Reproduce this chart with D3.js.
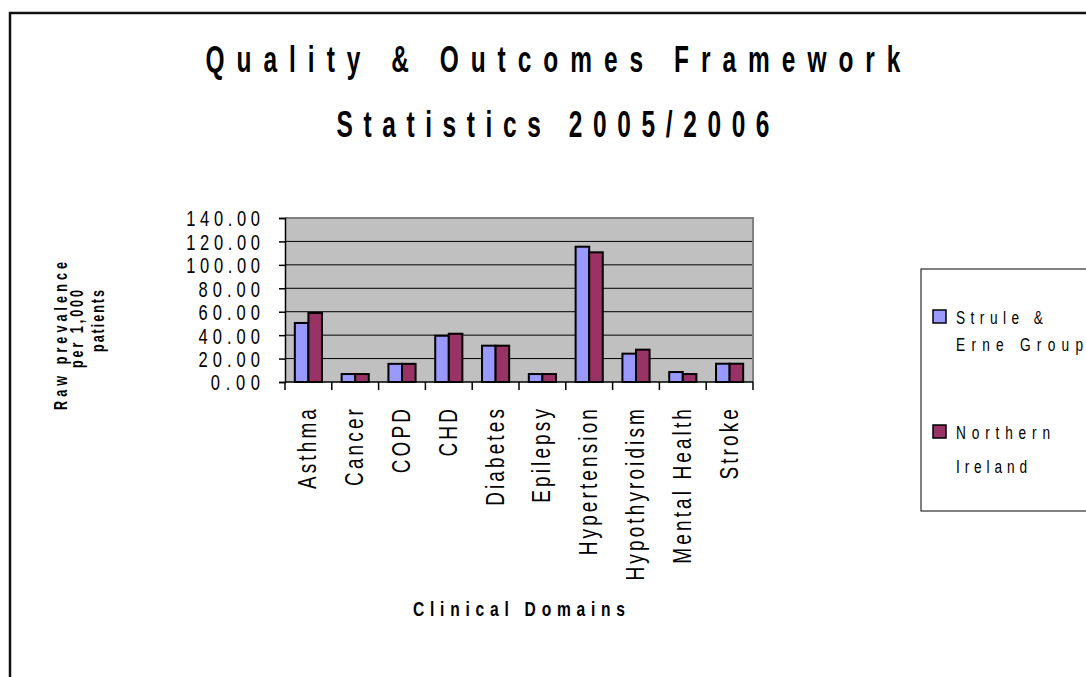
<!DOCTYPE html>
<html>
<head>
<meta charset="utf-8">
<script src="https://cdn.jsdelivr.net/npm/d3@7.9.0/dist/d3.min.js"></script>
<style>
  html, body { margin: 0; padding: 0; background: #fff; overflow: hidden; }
  svg { display: block; }
  text { font-family: "Liberation Sans", Arial, sans-serif; fill: #000; }
</style>
</head>
<body>
<svg id="chart" width="1086" height="677"></svg>
<script>
// chart data
const categories = ["Asthma", "Cancer", "COPD", "CHD", "Diabetes", "Epilepsy",
                    "Hypertension", "Hypothyroidism", "Mental Health", "Stroke"];
const seriesNames = ["Strule & Erne Group", "Northern Ireland"];
const struleValues = [50.4, 6.8, 15.5, 39.5, 31.0, 6.8, 115.5, 24.2, 8.5, 15.6];
const niValues = [58.9, 6.8, 15.5, 41.2, 31.0, 6.8, 110.7, 27.6, 6.8, 15.6];
const yTicks = [0, 20, 40, 60, 80, 100, 120, 140];
const colors = ["#9999ff", "#993366"];

const svg = d3.select("#chart");

// the original uses a squeezed, widely spaced font; fake it with scaleX + textLength
function squeezed(sel, sx, width) {
  sel.attr("textLength", width / sx).attr("lengthAdjust", "spacing");
}

// outer chart frame (runs off right and bottom edge)
svg.append("rect")
    .attr("x", 10).attr("y", 13)
    .attr("width", 1200).attr("height", 800)
    .attr("fill", "#fff")
    .attr("stroke", "#111")
    .attr("stroke-width", 2.5);

// title
const title = svg.append("g").attr("font-weight", "bold").attr("font-size", 36);
title.append("text")
    .attr("transform", "translate(553,72) scale(0.68,1)")
    .attr("text-anchor", "middle")
    .call(squeezed, 0.68, 695)
    .text("Quality & Outcomes Framework");
title.append("text")
    .attr("transform", "translate(553,137) scale(0.68,1)")
    .attr("text-anchor", "middle")
    .call(squeezed, 0.68, 433)
    .text("Statistics 2005/2006");

// plot area
const plot = { left: 285, right: 753, top: 218, bottom: 382 };

const x = d3.scaleBand()
    .domain(categories)
    .range([plot.left, plot.right]);

const xSeries = d3.scaleBand()
    .domain(seriesNames)
    .range([x.bandwidth() * 0.21, x.bandwidth() * 0.79]);

const y = d3.scaleLinear()
    .domain([0, 140])
    .range([plot.bottom, plot.top]);

svg.append("rect")
    .attr("x", plot.left).attr("y", plot.top)
    .attr("width", plot.right - plot.left)
    .attr("height", plot.bottom - plot.top)
    .attr("fill", "#c0c0c0");

// gridlines
svg.append("g")
    .selectAll("line")
    .data(yTicks.filter(d => d > 0 && d < 140))
    .join("line")
    .attr("x1", plot.left).attr("x2", plot.right)
    .attr("y1", d => y(d)).attr("y2", d => y(d))
    .attr("stroke", "#000")
    .attr("stroke-width", 1);

// gray top / right border
svg.append("path")
    .attr("d", `M${plot.left},${plot.top}H${plot.right}V${plot.bottom}`)
    .attr("fill", "none")
    .attr("stroke", "#808080")
    .attr("stroke-width", 2);

// bars
const rows = categories.map((c, i) => ({ cat: c, values: [struleValues[i], niValues[i]] }));

const groups = svg.append("g")
    .selectAll("g")
    .data(rows)
    .join("g")
    .attr("transform", d => `translate(${x(d.cat)},0)`);

groups.selectAll("rect")
    .data(d => d.values.map((v, k) => ({ name: seriesNames[k], value: v, k })))
    .join("rect")
    .attr("x", d => xSeries(d.name))
    .attr("y", d => y(d.value))
    .attr("width", xSeries.bandwidth())
    .attr("height", d => y(0) - y(d.value))
    .attr("fill", d => colors[d.k])
    .attr("stroke", "#000")
    .attr("stroke-width", 2);

// y axis
const yAxis = svg.append("g")
    .attr("transform", `translate(${plot.left},0)`)
    .call(d3.axisLeft(y).tickValues(yTicks).tickFormat(d3.format(".2f")).tickSize(6));
yAxis.select(".domain").attr("stroke", "#000").attr("stroke-width", 1.5);
yAxis.selectAll(".tick line").attr("stroke", "#000").attr("stroke-width", 1.5);
yAxis.selectAll(".tick text")
    .attr("font-family", null)
    .attr("font-size", 22)
    .attr("x", 0)
    .attr("dy", "0.36em")
    .attr("fill", "#000")
    .attr("transform", "translate(-25,0) scale(0.75,1)")
    .each(function () {
      const t = d3.select(this);
      t.call(squeezed, 0.75, t.text().length * 12.3);
    });

// x axis: ticks at the category boundaries
const xAxis = svg.append("g");
xAxis.append("line")
    .attr("x1", plot.left).attr("x2", plot.right)
    .attr("y1", plot.bottom).attr("y2", plot.bottom)
    .attr("stroke", "#000").attr("stroke-width", 1.5);
xAxis.selectAll("line.tick")
    .data(categories.concat([null]))
    .join("line")
    .attr("class", "tick")
    .attr("x1", d => d === null ? plot.right : x(d))
    .attr("x2", d => d === null ? plot.right : x(d))
    .attr("y1", plot.bottom).attr("y2", plot.bottom + 8)
    .attr("stroke", "#000").attr("stroke-width", 1.5);
xAxis.selectAll("text")
    .data(categories)
    .join("text")
    .attr("transform", d => `translate(${x(d) + x.bandwidth() / 2 + 8},406) rotate(-90) scale(0.76,1)`)
    .attr("text-anchor", "end")
    .attr("font-size", 25)
    .attr("letter-spacing", 4.1)
    .text(d => d);

// axis titles
svg.append("text")
    .attr("transform", "translate(519,616) scale(0.78,1)")
    .attr("text-anchor", "middle")
    .attr("font-weight", "bold")
    .attr("font-size", 20)
    .call(squeezed, 0.78, 212)
    .text("Clinical Domains");

const yTitle = [
  { text: "Raw prevalence", x: 67, y: 336, len: 148 },
  { text: "per 1,000", x: 83, y: 329, len: 78 },
  { text: "patients", x: 104, y: 321, len: 62 }
];
svg.append("g")
    .selectAll("text")
    .data(yTitle)
    .join("text")
    .attr("transform", d => `translate(${d.x},${d.y}) rotate(-90) scale(0.7,1)`)
    .attr("text-anchor", "middle")
    .attr("font-weight", "bold")
    .attr("font-size", 18)
    .each(function (d) { d3.select(this).call(squeezed, 0.7, d.len); })
    .text(d => d.text);

// legend
const legend = svg.append("g");
legend.append("rect")
    .attr("x", 921).attr("y", 269)
    .attr("width", 300).attr("height", 242)
    .attr("fill", "#fff")
    .attr("stroke", "#000").attr("stroke-width", 1);

const legendItems = [
  { lines: ["Strule &", "Erne Group"], lens: [87, 127], top: 310, lineGap: 27 },
  { lines: ["Northern", "Ireland"], lens: [94, 71], top: 425, lineGap: 34 }
];
legendItems.forEach((item, i) => {
  legend.append("rect")
      .attr("x", 933).attr("y", item.top)
      .attr("width", 13).attr("height", 13)
      .attr("fill", colors[i])
      .attr("stroke", "#000").attr("stroke-width", 1.5);
  item.lines.forEach((line, j) => {
    legend.append("text")
        .attr("transform", `translate(956,${item.top + 14 + j * item.lineGap}) scale(0.72,1)`)
        .attr("font-size", 19)
        .call(squeezed, 0.72, item.lens[j])
        .text(line);
  });
});
</script>
</body>
</html>
